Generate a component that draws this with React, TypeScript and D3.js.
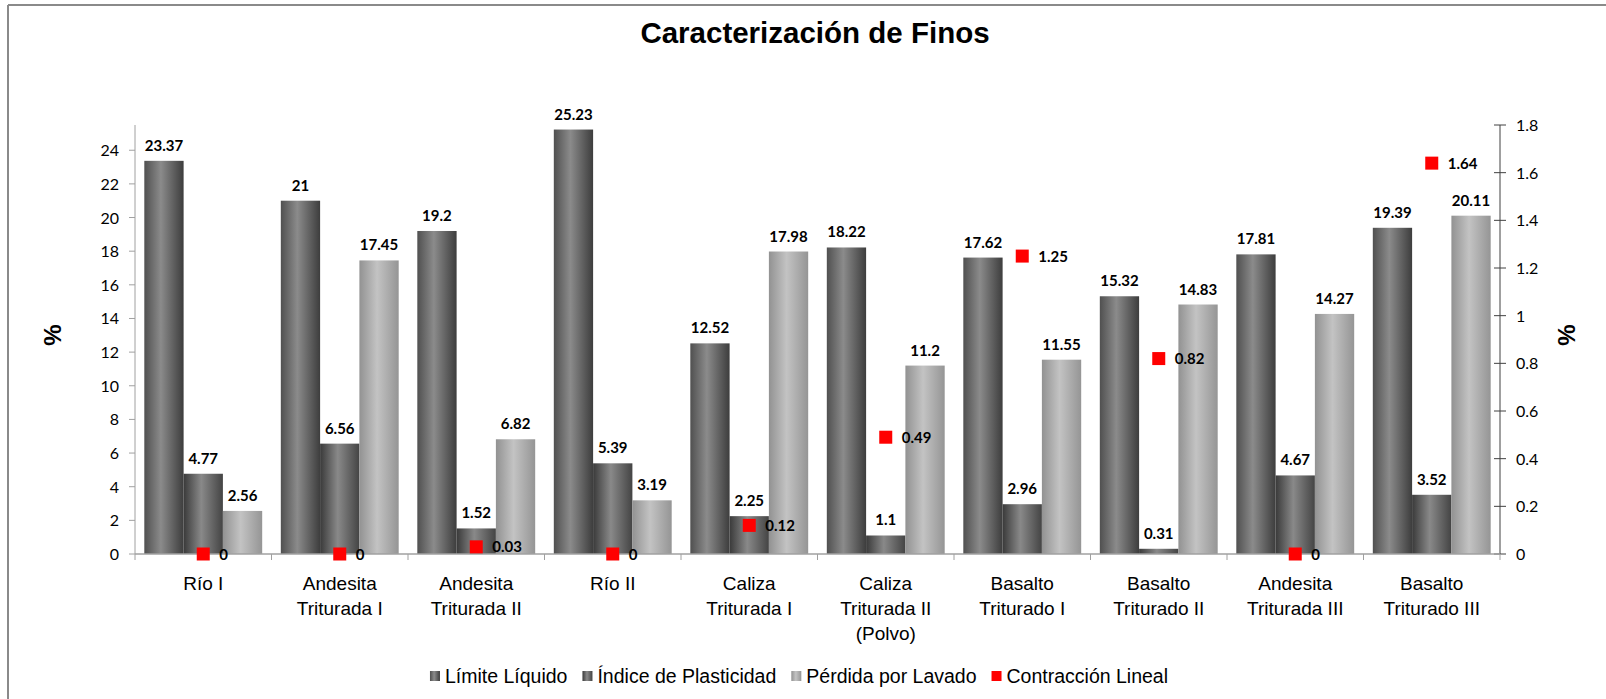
import React from "react";
import * as d3 from "d3";

const categories: string[][] = [
  ["Río I"],
  ["Andesita", "Triturada I"],
  ["Andesita", "Triturada II"],
  ["Río II"],
  ["Caliza", "Triturada I"],
  ["Caliza", "Triturada II", "(Polvo)"],
  ["Basalto", "Triturado I"],
  ["Basalto", "Triturado II"],
  ["Andesita", "Triturada III"],
  ["Basalto", "Triturado III"],
];
const limiteLiquido = [23.37, 21, 19.2, 25.23, 12.52, 18.22, 17.62, 15.32, 17.81, 19.39];
const indicePlasticidad = [4.77, 6.56, 1.52, 5.39, 2.25, 1.1, 2.96, 0.31, 4.67, 3.52];
const perdidaLavado = [2.56, 17.45, 6.82, 3.19, 17.98, 11.2, 11.55, 14.83, 14.27, 20.11];
const contraccionLineal = [0, 0, 0.03, 0, 0.12, 0.49, 1.25, 0.82, 0, 1.64];
const leftTicks = [0, 2, 4, 6, 8, 10, 12, 14, 16, 18, 20, 22, 24];
const rightTicks = [0, 0.2, 0.4, 0.6, 0.8, 1, 1.2, 1.4, 1.6, 1.8];
const seriesNames = ["Límite Líquido", "Índice de Plasticidad", "Pérdida por Lavado", "Contracción Lineal"];

const W = 1606;
const H = 699;
const X0 = 135;
const X1 = 1500;
const Y0 = 554;
const YT = 125;

const barSeries = [
  { name: seriesNames[0], values: limiteLiquido, grad: "g0" },
  { name: seriesNames[1], values: indicePlasticidad, grad: "g1" },
  { name: seriesNames[2], values: perdidaLavado, grad: "g2" },
];

const labelFont = "Lato, 'Open Sans', sans-serif";
const arial = "'Liberation Sans', Arial, sans-serif";

function fmtNum(v: number) {
  return String(+v.toFixed(2));
}

export default function App() {
  const idx = categories.map((_, i) => String(i));
  const x = d3.scaleBand<string>().domain(idx).range([X0, X1]).paddingInner(0).paddingOuter(0);
  const xi = d3
    .scaleBand<string>()
    .domain(["0", "1", "2"])
    .range([0, x.bandwidth()])
    .paddingInner(0)
    .paddingOuter(0.237);
  const yL = d3.scaleLinear().domain([0, 25.5]).range([Y0, YT]);
  const yR = d3.scaleLinear().domain([0, 1.8]).range([Y0, YT]);

  // legend layout via text measurement
  const legendFontSize = 19.5;
  let widths: number[] = seriesNames.map((s) => s.length * 9);
  if (typeof document !== "undefined") {
    const c = document.createElement("canvas").getContext("2d");
    if (c) {
      c.font = `${legendFontSize}px 'Liberation Sans'`;
      widths = seriesNames.map((s) => c.measureText(s).width);
    }
  }
  const markerW = 10;
  const markerGap = 5;
  const itemGap = 15;
  const total = widths.reduce((a, w) => a + markerW + markerGap + w, 0) + itemGap * (widths.length - 1);
  let lx = 799 - total / 2;
  const legendItems = widths.map((w, i) => {
    const item = { x: lx, w, name: seriesNames[i] };
    lx += markerW + markerGap + w + itemGap;
    return item;
  });
  const legendY = 676;

  return (
    <svg
      width={W}
      height={H}
      style={{ position: "absolute", left: 0, top: 0, background: "#fff" }}
      xmlns="http://www.w3.org/2000/svg"
    >
      <defs>
        <linearGradient id="g0" x1="0" x2="1" y1="0" y2="0">
          <stop offset="0" stopColor="#505050" />
          <stop offset="0.42" stopColor="#8b8b8b" />
          <stop offset="1" stopColor="#3d3d3d" />
        </linearGradient>
        <linearGradient id="g1" x1="0" x2="1" y1="0" y2="0">
          <stop offset="0" stopColor="#3a3a3a" />
          <stop offset="0.45" stopColor="#898989" />
          <stop offset="1" stopColor="#444444" />
        </linearGradient>
        <linearGradient id="g2" x1="0" x2="1" y1="0" y2="0">
          <stop offset="0" stopColor="#929292" />
          <stop offset="0.45" stopColor="#c3c3c3" />
          <stop offset="1" stopColor="#959595" />
        </linearGradient>
      </defs>
      <rect x={0} y={0} width={W} height={H} fill="#fff" />
      {/* frame */}
      <line x1={8} y1={5} x2={W} y2={5} stroke="#8a8a8a" strokeWidth={2} />
      <line x1={8} y1={5} x2={8} y2={H} stroke="#8a8a8a" strokeWidth={2} />

      {/* title */}
      <text x={815} y={43} textAnchor="middle" fontFamily={arial} fontWeight="bold" fontSize={29.5} fill="#000">
        Caracterización de Finos
      </text>

      {/* bars */}
      {barSeries.map((s, si) =>
        s.values.map((v, ci) => {
          const bx = (x(String(ci)) as number) + (xi(String(si)) as number);
          const bw = xi.bandwidth();
          return (
            <rect
              key={`b${si}-${ci}`}
              x={bx}
              y={yL(v)}
              width={bw}
              height={Y0 - yL(v)}
              fill={`url(#${s.grad})`}
            />
          );
        })
      )}

      {/* left axis */}
      <line x1={X0} y1={YT} x2={X0} y2={Y0} stroke="#a0a0a0" strokeWidth={1} />
      {leftTicks.map((t) => (
        <g key={`lt${t}`}>
          <line x1={X0 - 6} x2={X0} y1={yL(t)} y2={yL(t)} stroke="#a0a0a0" />
          <text x={119} y={yL(t) + 6} textAnchor="end" fontFamily={labelFont} fontSize={16} fill="#000">
            {t}
          </text>
        </g>
      ))}

      {/* right axis */}
      <line x1={X1} y1={YT} x2={X1} y2={Y0} stroke="#404040" strokeWidth={1} />
      {rightTicks.map((t) => (
        <g key={`rt${t}`}>
          <line x1={X1 - 6} x2={X1 + 6} y1={yR(t)} y2={yR(t)} stroke="#404040" />
          <text x={1516} y={yR(t) + 6} textAnchor="start" fontFamily={labelFont} fontSize={16} fill="#000">
            {fmtNum(t)}
          </text>
        </g>
      ))}

      {/* category axis */}
      <line x1={X0} y1={Y0} x2={X1} y2={Y0} stroke="#a0a0a0" strokeWidth={1.5} />
      {idx.concat([String(categories.length)]).map((k, i) => {
        const tx = i < categories.length ? (x(k) as number) : X1;
        return <line key={`ct${i}`} x1={tx} x2={tx} y1={Y0} y2={Y0 + 6} stroke="#a0a0a0" />;
      })}
      {categories.map((lines, ci) => {
        const cx = (x(String(ci)) as number) + x.bandwidth() / 2;
        return (
          <text key={`cl${ci}`} textAnchor="middle" fontFamily={arial} fontSize={19} fill="#000">
            {lines.map((ln, li) => (
              <tspan key={li} x={cx} y={590 + li * 25}>
                {ln}
              </tspan>
            ))}
          </text>
        );
      })}

      {/* bar labels */}
      {barSeries.map((s, si) =>
        s.values.map((v, ci) => {
          const bx = (x(String(ci)) as number) + (xi(String(si)) as number) + xi.bandwidth() / 2;
          return (
            <text
              key={`bl${si}-${ci}`}
              x={bx}
              y={yL(v) - 10}
              textAnchor="middle"
              fontFamily={labelFont}
              fontWeight="bold"
              fontSize={15}
              fill="#000"
            >
              {fmtNum(v)}
            </text>
          );
        })
      )}

      {/* contraccion markers */}
      {contraccionLineal.map((v, ci) => {
        const cx = (x(String(ci)) as number) + x.bandwidth() / 2;
        const cy = yR(v);
        return (
          <g key={`m${ci}`}>
            <rect x={cx - 6.5} y={cy - 6.5} width={13} height={13} fill="#ff0000" />
            <text x={cx + 16} y={cy + 5.5} fontFamily={labelFont} fontWeight="bold" fontSize={15} fill="#000">
              {fmtNum(v)}
            </text>
          </g>
        );
      })}

      {/* axis titles */}
      <text
        transform={`translate(61,335) rotate(-90)`}
        textAnchor="middle"
        fontFamily={arial}
        fontWeight="bold"
        fontSize={24}
        fill="#000"
      >
        %
      </text>
      <text
        transform={`translate(1575,335) rotate(-90)`}
        textAnchor="middle"
        fontFamily={arial}
        fontWeight="bold"
        fontSize={24}
        fill="#000"
      >
        %
      </text>

      {/* legend */}
      {legendItems.map((it, i) => (
        <g key={`lg${i}`}>
          <rect
            x={it.x}
            y={legendY - 5}
            width={markerW}
            height={markerW}
            fill={i < 3 ? `url(#g${i})` : "#ff0000"}
          />
          <text
            x={it.x + markerW + markerGap}
            y={legendY + 7}
            fontFamily={arial}
            fontSize={legendFontSize}
            fill="#000"
          >
            {it.name}
          </text>
        </g>
      ))}
    </svg>
  );
}
